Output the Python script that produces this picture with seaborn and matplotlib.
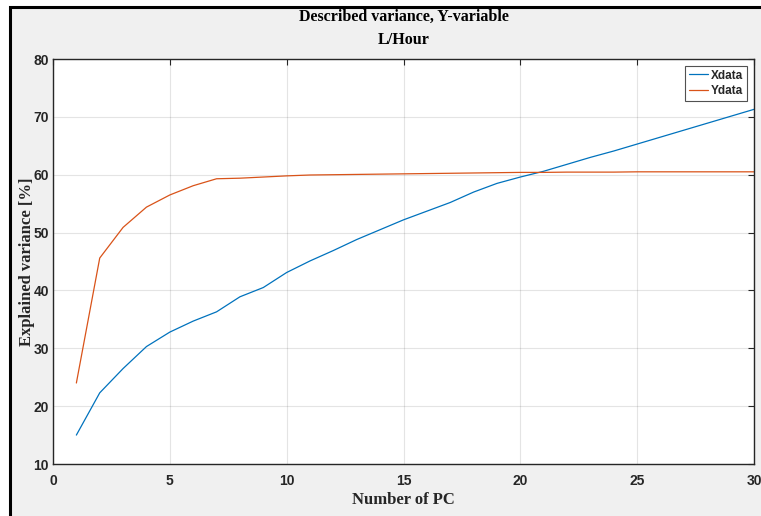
import matplotlib
matplotlib.use("Agg")
import matplotlib.pyplot as plt
from matplotlib.patches import Rectangle
import pandas as pd
import seaborn as sns

# -----------------------
# data
# -----------------------
n_pc = list(range(1, 31))
xdata = [15.0, 22.3, 26.5, 30.3, 32.8, 34.7, 36.3, 38.9, 40.5, 43.1,
         45.1, 46.9, 48.8, 50.5, 52.2, 53.7, 55.2, 57.0, 58.5, 59.6,
         60.6, 61.8, 63.0, 64.1, 65.3, 66.5, 67.7, 68.9, 70.1, 71.3]
ydata = [24.0, 45.6, 50.9, 54.4, 56.5, 58.1, 59.3, 59.4, 59.6, 59.8,
         59.95, 60.0, 60.05, 60.1, 60.15, 60.2, 60.25, 60.3, 60.35, 60.4,
         60.4, 60.45, 60.45, 60.45, 60.5, 60.5, 60.5, 60.5, 60.5, 60.5]
series_names = ["Xdata", "Ydata"]
x_ticks = [0, 5, 10, 15, 20, 25, 30]
y_ticks = [10, 20, 30, 40, 50, 60, 70, 80]

df = pd.DataFrame({
    "PC": n_pc * 2,
    "variance": xdata + ydata,
    "series": [series_names[0]] * len(n_pc) + [series_names[1]] * len(n_pc),
})

sns.set_theme(style="whitegrid")
serif = ["Liberation Serif", "DejaVu Serif"]
narrow = ["Liberation Sans Narrow", "Liberation Sans", "DejaVu Sans"]
plt.rcParams["font.family"] = narrow

fig = plt.figure(figsize=(7.61, 5.16), dpi=100, facecolor="white")
# grey window with black frame, like the screenshot
fig.patches.append(Rectangle((10 / 761, -0.02), 1.05, 1 - 7 / 516 + 0.02,
                             transform=fig.transFigure, facecolor="#f0f0f0",
                             edgecolor="black", linewidth=2.2, zorder=-10))
ax = fig.add_axes([53 / 761, 1 - 464 / 516, (754 - 53) / 761, (464 - 59) / 516])

sns.lineplot(data=df, x="PC", y="variance", hue="series",
             palette=["#0072BD", "#D95319"], linewidth=0.9, ax=ax)

ax.set_xlim(0, 30)
ax.set_ylim(10, 80)
ax.set_xticks(x_ticks)
ax.set_yticks(y_ticks)
ax.set_facecolor("white")
ax.grid(True, color="#262626", alpha=0.12, linewidth=0.8)
for sp in ax.spines.values():
    sp.set_color("#262626")
    sp.set_linewidth(1.0)
    sp.set_visible(True)
ax.tick_params(direction="in", length=4, width=0.8, color="#262626",
               top=True, right=True, labelsize=10, pad=3, labelcolor="#262626")
ax.tick_params(axis="x", pad=7)
for lab in ax.get_xticklabels() + ax.get_yticklabels():
    lab.set_fontweight("bold")

ax.set_xlabel("Number of PC", family=serif, fontweight="bold", fontsize=12,
              color="#262626", labelpad=3)
ax.set_ylabel("Explained variance [%]", family=serif, fontweight="bold",
              fontsize=12, color="#262626", labelpad=-1)
ax.set_title("Described variance, Y-variable\nL/Hour", family=serif,
             fontweight="bold", fontsize=11.5, color="black", pad=11,
             linespacing=1.6)

leg = ax.legend(loc="upper right", frameon=True, fancybox=False,
                fontsize=8.5, handlelength=1.6, handletextpad=0.3,
                borderpad=0.3, labelspacing=0.3, borderaxespad=0.6)
leg.get_frame().set_edgecolor("#262626")
leg.get_frame().set_linewidth(0.8)
for t in leg.get_texts():
    t.set_fontweight("bold")

fig.savefig("out.png", dpi=100, facecolor=fig.get_facecolor())
